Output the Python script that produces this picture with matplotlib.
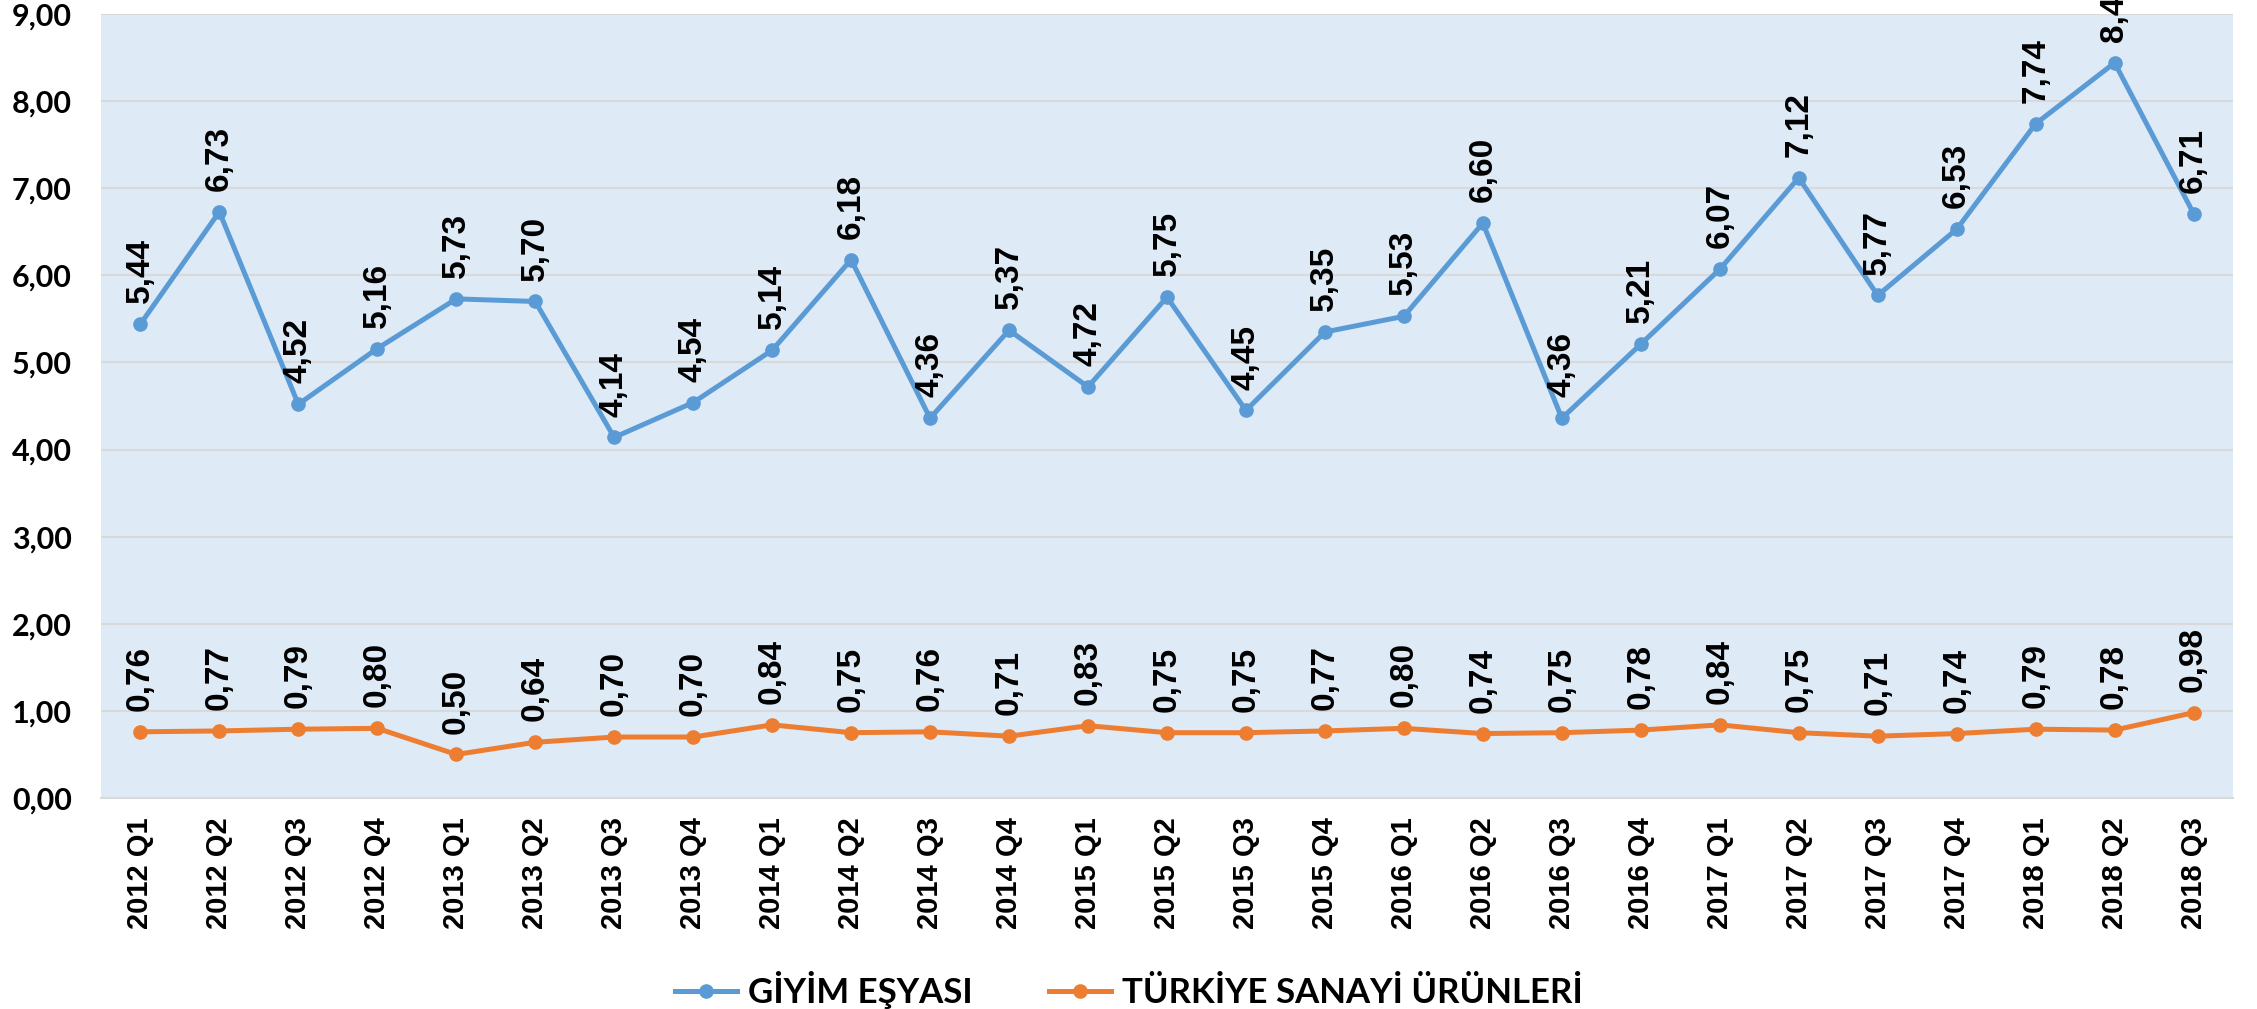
import matplotlib
matplotlib.use("Agg")
from matplotlib import pyplot as plt
from matplotlib.ticker import FuncFormatter

# Veriler
ceyrekler = ["2012 Q1", "2012 Q2", "2012 Q3", "2012 Q4",
             "2013 Q1", "2013 Q2", "2013 Q3", "2013 Q4",
             "2014 Q1", "2014 Q2", "2014 Q3", "2014 Q4",
             "2015 Q1", "2015 Q2", "2015 Q3", "2015 Q4",
             "2016 Q1", "2016 Q2", "2016 Q3", "2016 Q4",
             "2017 Q1", "2017 Q2", "2017 Q3", "2017 Q4",
             "2018 Q1", "2018 Q2", "2018 Q3"]
giyim = [5.44, 6.73, 4.52, 5.16, 5.73, 5.70, 4.14, 4.54, 5.14, 6.18, 4.36,
         5.37, 4.72, 5.75, 4.45, 5.35, 5.53, 6.60, 4.36, 5.21, 6.07, 7.12,
         5.77, 6.53, 7.74, 8.44, 6.71]
sanayi = [0.76, 0.77, 0.79, 0.80, 0.50, 0.64, 0.70, 0.70, 0.84, 0.75, 0.76,
          0.71, 0.83, 0.75, 0.75, 0.77, 0.80, 0.74, 0.75, 0.78, 0.84, 0.75,
          0.71, 0.74, 0.79, 0.78, 0.98]
seriler = ["GİYİM EŞYASI", "TÜRKİYE SANAYİ ÜRÜNLERİ"]

# Renkler
MAVI = '#5B9BD5'
TURUNCU = '#ED7D31'
ZEMIN = '#DEEAF6'
IZGARA = '#D9D9D9'

fig = plt.figure(figsize=(22.57, 10.09), dpi=100)
ax = fig.add_axes([0.0447, 0.2091, 0.9447, 0.777])
ax.set_facecolor(ZEMIN)

x = list(range(len(ceyrekler)))
ax.plot(x, giyim, color=MAVI, lw=3.6, marker='o', ms=9.5, label=seriler[0])
ax.plot(x, sanayi, color=TURUNCU, lw=3.6, marker='o', ms=9.5, label=seriler[1])

# Veri etiketleri
for seri in (giyim, sanayi):
    for i, v in enumerate(seri):
        ax.annotate(f"{v:.2f}".replace('.', ','), (i, v), xytext=(0, 15),
                    textcoords='offset points', rotation=90, ha='center',
                    va='bottom', fontsize=24, fontweight='bold',
                    family=['Liberation Sans', 'DejaVu Sans'],
                    annotation_clip=False)

ax.set_xlim(-0.5, len(ceyrekler) - 0.5)
ax.set_ylim(0, 9)
ax.set_yticks(range(10))
ax.yaxis.set_major_formatter(FuncFormatter(lambda v, p: f"{v:.2f}".replace('.', ',')))
ax.set_xticks(x)
ax.set_xticklabels(ceyrekler, rotation=90, fontsize=21, fontweight='bold',
                   family=['Liberation Sans', 'DejaVu Sans'])
for t in ax.get_yticklabels():
    t.set_fontsize(22)
    t.set_fontweight('bold')
    t.set_family(['Lato', 'DejaVu Sans'])
ax.tick_params(axis='both', length=0)
ax.tick_params(axis='y', pad=21)
ax.tick_params(axis='x', pad=14)

ax.grid(axis='y', color=IZGARA, lw=1.5)
ax.set_axisbelow(True)
for s in ['left', 'right', 'top']:
    ax.spines[s].set_visible(False)
ax.spines['bottom'].set_color(IZGARA)
ax.spines['bottom'].set_linewidth(1.5)

leg = fig.legend(loc='center', bbox_to_anchor=(0.5, 0.019), ncol=2,
                 frameon=False, handlelength=1.8, handletextpad=0.3,
                 columnspacing=2.2,
                 prop={'family': ['Lato', 'DejaVu Sans'],
                       'weight': 'bold', 'size': 25})

fig.savefig('out.png', dpi=100, facecolor='white')
